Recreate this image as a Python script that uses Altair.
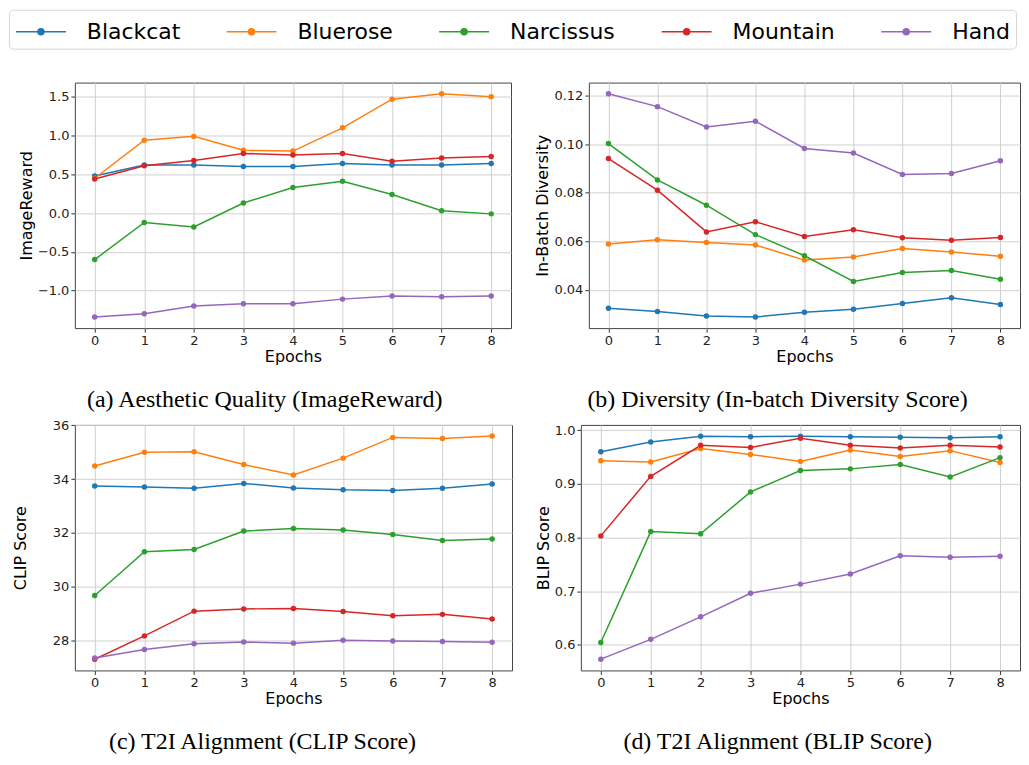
import altair as alt
import pandas as pd

epochs = [0, 1, 2, 3, 4, 5, 6, 7, 8]
series = ["Blackcat", "Bluerose", "Narcissus", "Mountain", "Hand"]
colors = ["#1f77b4", "#ff7f0e", "#2ca02c", "#d62728", "#9467bd"]

# (a) ImageReward
ir_blackcat = [0.48, 0.62, 0.62, 0.60, 0.60, 0.64, 0.62, 0.62, 0.64]
ir_bluerose = [0.45, 0.94, 0.99, 0.81, 0.80, 1.10, 1.47, 1.54, 1.50]
ir_narcissus = [-0.60, -0.12, -0.18, 0.13, 0.33, 0.41, 0.24, 0.03, -0.01]
ir_mountain = [0.44, 0.61, 0.68, 0.77, 0.75, 0.77, 0.67, 0.71, 0.73]
ir_hand = [-1.34, -1.30, -1.20, -1.17, -1.17, -1.11, -1.07, -1.08, -1.07]

# (b) In-batch diversity
dv_blackcat = [0.0325, 0.0311, 0.0293, 0.0289, 0.0308, 0.0321, 0.0344, 0.0368, 0.0340]
dv_bluerose = [0.0589, 0.0607, 0.0596, 0.0585, 0.0523, 0.0536, 0.0571, 0.0556, 0.0539]
dv_narcissus = [0.1003, 0.0853, 0.0749, 0.0628, 0.0541, 0.0435, 0.0472, 0.0480, 0.0444]
dv_mountain = [0.0941, 0.0811, 0.0639, 0.0681, 0.0620, 0.0648, 0.0615, 0.0605, 0.0616]
dv_hand = [0.1208, 0.1155, 0.1071, 0.1095, 0.0983, 0.0964, 0.0876, 0.0880, 0.0932]

# (c) CLIP score
cl_blackcat = [33.74, 33.71, 33.66, 33.84, 33.67, 33.60, 33.58, 33.66, 33.82]
cl_bluerose = [34.49, 35.00, 35.02, 34.54, 34.15, 34.78, 35.55, 35.51, 35.60]
cl_narcissus = [29.67, 31.30, 31.38, 32.07, 32.16, 32.11, 31.94, 31.72, 31.77]
cl_mountain = [27.30, 28.17, 29.09, 29.17, 29.19, 29.08, 28.92, 28.97, 28.80]
cl_hand = [27.35, 27.66, 27.88, 27.94, 27.90, 28.01, 27.98, 27.96, 27.93]

# (d) BLIP score
bl_blackcat = [0.960, 0.978, 0.989, 0.988, 0.989, 0.988, 0.987, 0.986, 0.988]
bl_bluerose = [0.943, 0.941, 0.966, 0.955, 0.942, 0.963, 0.951, 0.962, 0.940]
bl_narcissus = [0.604, 0.811, 0.807, 0.885, 0.925, 0.928, 0.936, 0.913, 0.949]
bl_mountain = [0.803, 0.914, 0.972, 0.968, 0.985, 0.972, 0.967, 0.972, 0.969]
bl_hand = [0.573, 0.610, 0.652, 0.696, 0.713, 0.732, 0.766, 0.763, 0.765]

metrics = {
    "ir": [ir_blackcat, ir_bluerose, ir_narcissus, ir_mountain, ir_hand],
    "dv": [dv_blackcat, dv_bluerose, dv_narcissus, dv_mountain, dv_hand],
    "cl": [cl_blackcat, cl_bluerose, cl_narcissus, cl_mountain, cl_hand],
    "bl": [bl_blackcat, bl_bluerose, bl_narcissus, bl_mountain, bl_hand],
}

rows = []
for m, lists in metrics.items():
    for s, vals in zip(series, lists):
        for e, v in zip(epochs, vals):
            rows.append({"metric": m, "series": s, "epoch": e, "value": v})
df = pd.DataFrame(rows)

# line handle (50px) with a dot in the middle; box of the symbol is 30px
legend_symbol = "M-1.667,0H1.667M-0.2,0A0.2,0.2,0,1,1,0.2,0A0.2,0.2,0,1,1,-0.2,0Z"

legend = alt.Legend(
    title=None,
    orient="none",
    legendX=-66,
    legendY=-73,
    offset=0,
    direction="horizontal",
    columns=5,
    gridAlign="each",
    symbolType=legend_symbol,
    symbolSize=900,
    symbolOffset=10,
    symbolStrokeWidth=1.5,
    labelFont="DejaVu Sans",
    labelFontSize=22,
    labelColor="black",
    labelOffset=30,
    columnPadding=42,
    padding=6,
    strokeColor="#d6d6d6",
    cornerRadius=4,
    fillColor="white",
)

color = alt.Color("series:N", scale=alt.Scale(domain=series, range=colors),
                  sort=series, legend=legend)


def panel(metric, ytitle, caption, w, h, domain, ticks, fmt, title_x=None):
    base = alt.Chart(df[df.metric == metric])
    x = alt.X("epoch:Q",
              scale=alt.Scale(domain=[-0.4, 8.4], nice=False, zero=False),
              axis=alt.Axis(values=epochs, format="d", title="Epochs"))
    yaxis_kw = dict(values=ticks, format=fmt, title=ytitle)
    if title_x is not None:
        yaxis_kw["titleX"] = title_x
    y = alt.Y("value:Q",
              scale=alt.Scale(domain=domain, nice=False, zero=False),
              axis=alt.Axis(**yaxis_kw))
    line = base.mark_line(strokeWidth=1.5).encode(x=x, y=y, color=color,
                                                  detail="series:N")
    pts = base.mark_circle(size=30, opacity=1).encode(x=x, y=y, color=color)
    return alt.layer(line, pts).properties(
        width=w, height=h,
        title=alt.TitleParams(caption, orient="bottom", anchor="middle",
                              frame="bounds", font="Liberation Serif",
                              fontSize=24, fontWeight="normal", color="black",
                              offset=24),
    )


pa = panel("ir", "ImageReward", "(a) Aesthetic Quality (ImageReward)", 437, 246,
           [-1.484, 1.684], [-1.0, -0.5, 0.0, 0.5, 1.0, 1.5], ".1f")
pb = panel("dv", "In-Batch Diversity", "(b) Diversity (In-batch Diversity Score)",
           432, 246, [0.0243, 0.1254], [0.04, 0.06, 0.08, 0.10, 0.12], ".2f")
pc = panel("cl", "CLIP Score", "(c) T2I Alignment (CLIP Score)", 438, 246,
           [26.885, 36.015], [28, 30, 32, 34, 36], "d", title_x=-46)
pd_ = panel("bl", "BLIP Score", "(d) T2I Alignment (BLIP Score)", 440, 246,
            [0.552, 1.010], [0.6, 0.7, 0.8, 0.9, 1.0], ".1f")

row1 = alt.hconcat(pa, pb, spacing=22)
row2 = alt.hconcat(pc, pd_, spacing=21)

chart = alt.vconcat(row1, row2, spacing=5).resolve_scale(color="shared").properties(
    padding={"left": 0, "top": 0, "right": 0, "bottom": 0}
).configure_view(
    stroke="#444", strokeWidth=1
).configure_axis(
    labelFont="DejaVu Sans", labelFontSize=13, labelColor="#222",
    titleFont="DejaVu Sans", titleFontSize=16, titleFontWeight="normal",
    titleColor="black", titlePadding=3,
    grid=True, gridColor="#d0d0d0", gridWidth=1,
    domain=False, ticks=True, tickColor="#333", tickSize=4, tickWidth=1,
    labelPadding=2,
).configure_axisX(titlePadding=1)

chart.save("out.html", embed_options={"renderer": "svg", "actions": False})
